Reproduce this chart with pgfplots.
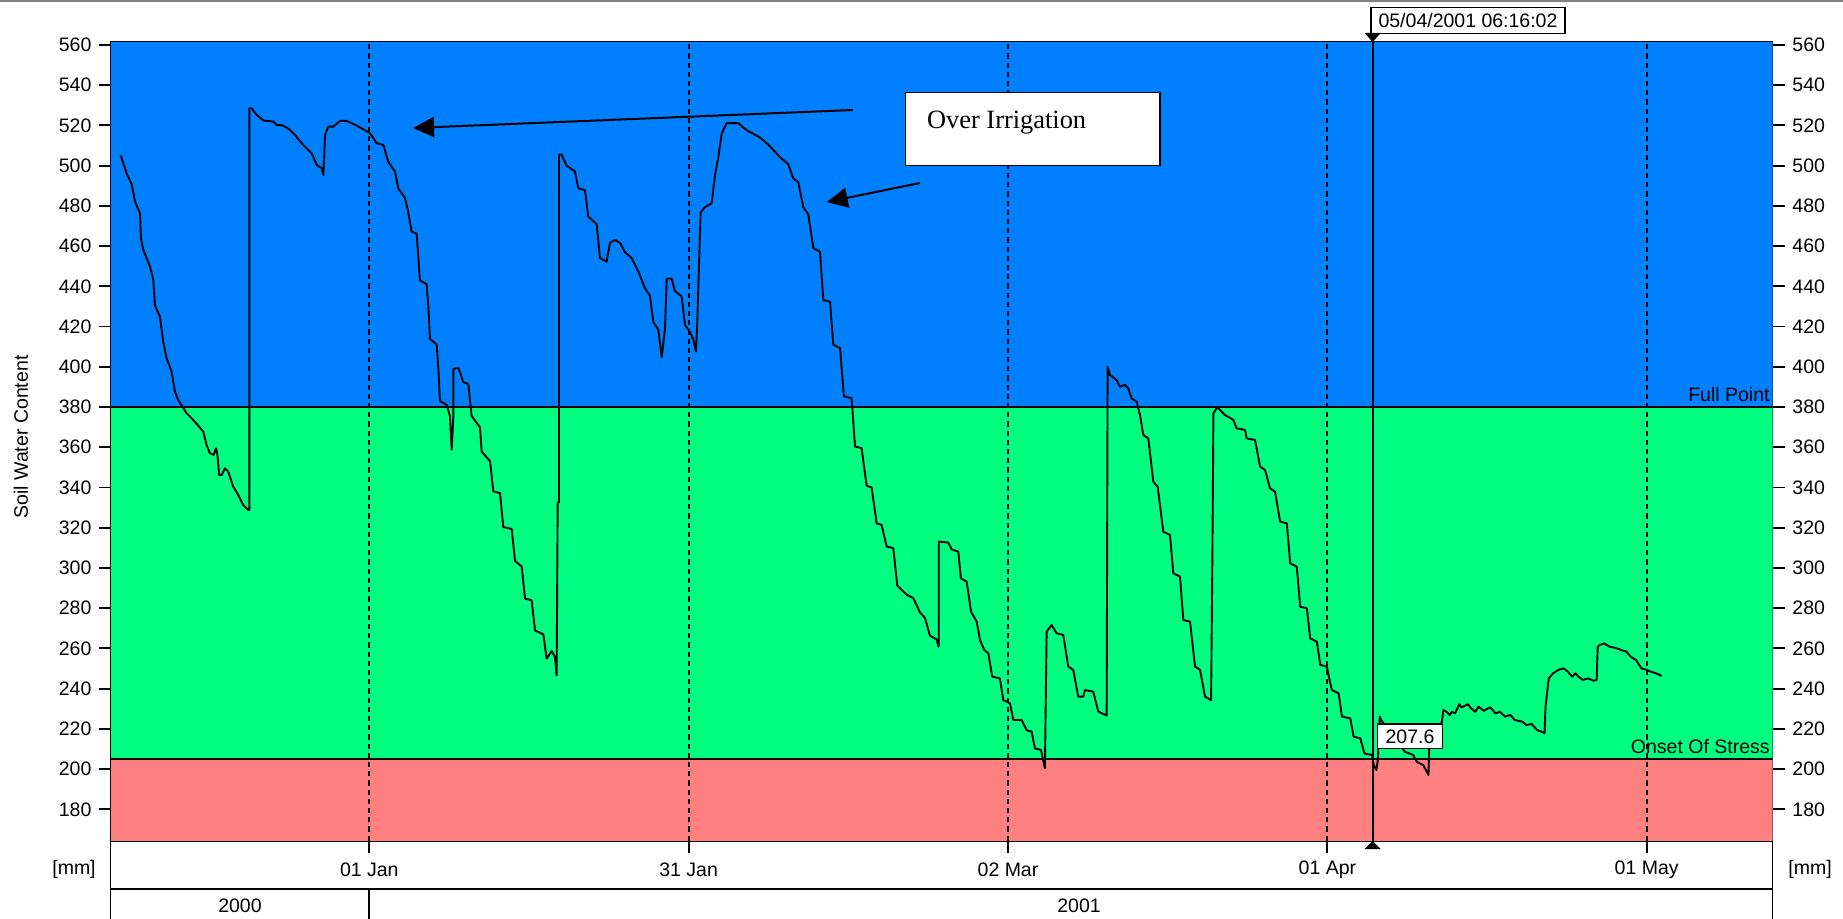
\documentclass[border=0pt]{standalone}
\usepackage{fontspec}
\setmainfont{Liberation Sans}
\newfontfamily\timesfont{Liberation Serif}
\usepackage{pgfplots}
\usepackage{pgfplotstable}
\pgfplotsset{compat=1.18}
\usetikzlibrary{arrows.meta}
\definecolor{bandblue}{RGB}{0,128,255}
\definecolor{bandgreen}{RGB}{0,255,128}
\definecolor{bandred}{RGB}{255,128,128}
\newcommand\lbl{\fontsize{9.75pt}{11pt}\selectfont}

% x = days since 01 Jan 2001, y = soil water content [mm]
\pgfplotstableread{
x y
-23.36 505.3
-22.8 496.2
-22.32 490.7
-22.0 482.1
-21.54 476.3
-21.45 463.9
-21.23 458.1
-20.6 449.8
-20.29 443.2
-20.14 430.7
-19.67 424.9
-19.36 412.5
-19.04 404.2
-18.57 397.6
-18.26 387.6
-17.95 383.5
-17.16 376.9
-16.54 373.6
-15.6 367.8
-15.28 361.1
-14.97 357.0
-14.6 356.2
-14.41 359.5
-14.28 357.0
-14.1 346.2
-13.87 346.2
-13.56 349.5
-13.25 347.9
-12.78 340.4
-12.31 336.3
-11.84 331.3
-11.37 328.8
-11.27 328.8
-11.27 528.5
-11.05 528.5
-10.58 525.2
-9.95 522.4
-9.01 521.9
-8.7 520.2
-8.07 519.9
-7.45 517.7
-6.98 515.2
-6.35 511.1
-5.41 506.1
-4.94 500.3
-4.47 498.7
-4.31 495.4
-4.16 515.2
-3.84 519.4
-3.37 519.4
-2.75 522.2
-2.12 522.2
-1.18 519.9
0.07 516.1
0.7 511.1
1.32 510.3
1.79 501.8
2.41 497.1
2.73 488.7
3.35 484.0
3.67 476.5
3.98 467.2
4.45 466.2
4.61 454.1
4.76 442.9
5.39 441.0
5.55 429.8
5.70 413.9
6.33 411.1
6.49 398.9
6.64 383.0
7.27 381.1
7.58 375.5
7.74 358.7
7.90 375.5
7.90 398.9
8.37 399.5
8.83 392.4
9.30 391.4
9.62 375.5
10.40 369.9
10.56 357.8
11.34 353.1
11.65 338.1
12.28 337.2
12.59 320.3
13.38 319.4
13.69 303.5
14.32 300.7
14.63 284.8
15.25 283.9
15.57 268.9
16.35 267.0
16.66 254.9
17.13 258.6
17.44 255.8
17.6 246.5
17.7 332.5
17.82 332.5
17.82 505.5
18.07 505.5
18.54 499.9
19.32 497.1
19.64 488.7
20.26 487.8
20.57 474.7
21.36 470.9
21.67 454.1
22.29 452.2
22.61 461.6
23.08 463.1
23.55 461.6
24.02 456.9
24.64 454.1
25.27 447.5
25.89 439.1
26.36 435.4
26.68 422.3
27.15 418.5
27.47 404.8
27.78 419.0
27.94 443.9
28.40 443.9
28.72 437.6
29.34 435.0
29.66 420.8
30.13 417.2
30.44 413.7
30.69 407.5
30.82 423.4
31.00 455.4
31.13 476.7
31.54 479.4
32.16 481.2
32.48 495.4
32.79 504.2
33.10 515.8
33.57 521.1
34.67 521.1
35.45 517.6
36.70 514.0
37.64 509.6
38.58 504.2
39.36 500.7
39.83 493.6
40.30 491.8
40.77 479.4
41.24 475.8
41.71 459.0
42.34 457.2
42.65 433.2
43.28 432.3
43.59 411.0
44.22 409.3
44.59 385.3
45.31 384.4
45.63 360.4
46.25 359.5
46.72 340.9
47.19 340.0
47.66 322.2
48.13 321.4
48.60 310.7
49.23 309.8
49.60 291.2
50.48 286.7
51.11 285.0
51.73 277.9
52.20 275.2
52.67 266.3
53.30 264.5
53.45 261.0
53.50 261.0
53.50 313.1
54.40 312.6
54.71 309.2
55.33 308.1
55.58 294.8
56.12 293.2
56.53 278.3
57.06 273.3
57.37 264.2
57.77 259.2
58.15 257.6
58.52 246.0
59.24 245.1
59.56 234.3
60.19 232.7
60.50 224.4
61.28 224.4
61.75 219.4
62.22 218.6
62.53 210.3
63.10 209.5
63.47 200.4
63.63 268.3
64.10 271.6
64.57 267.5
65.19 266.7
65.66 251.0
66.13 249.3
66.60 236.0
67.07 236.0
67.23 239.3
68.01 238.5
68.48 228.6
69.27 226.6
69.36 400.1
69.58 395.9
70.21 393.4
70.52 390.1
70.99 391.0
71.30 389.3
71.61 384.3
72.08 382.7
72.40 376.0
72.71 366.1
73.18 364.4
73.65 342.9
74.06 340.4
74.59 318.0
75.22 316.4
75.53 297.3
76.16 295.7
76.47 274.1
77.10 273.3
77.57 251.0
78.04 249.3
78.51 236.0
79.08 234.3
79.20 304.8
79.30 376.9
79.60 379.4
79.76 379.4
80.39 376.0
81.17 373.6
81.48 369.4
82.27 368.6
82.43 364.4
83.21 363.6
83.68 350.4
84.15 348.7
84.62 339.6
85.09 337.9
85.56 323.0
86.19 322.2
86.51 302.3
87.13 300.6
87.45 280.7
88.08 279.9
88.39 265.0
89.02 263.3
89.33 251.8
89.96 250.9
90.21 244.3
90.43 239.3
91.06 237.7
91.37 226.1
92.16 225.2
92.47 216.1
93.10 215.3
93.48 207.8
94.20 207.0
94.36 202.0
94.61 199.5
94.74 204.5
94.93 226.1
95.05 224.4
96.20 216.0
97.30 208.6
98.07 207.0
98.39 203.7
99.01 202.0
99.50 197.1
99.57 210.3
100.20 222.0
100.74 222.7
100.90 229.4
101.20 228.5
101.50 226.9
101.70 228.5
102.00 227.7
102.40 232.3
102.60 230.7
102.90 231.4
103.20 232.3
103.50 230.2
103.90 228.5
104.20 231.0
104.70 229.0
105.30 230.7
105.80 227.7
106.20 228.5
106.70 226.1
107.20 226.9
107.60 224.4
108.30 223.6
108.70 221.9
109.20 222.4
109.70 219.4
110.10 218.6
110.40 217.8
110.50 231.0
110.80 245.1
111.20 247.6
111.70 249.3
112.20 250.1
112.60 248.4
113.00 245.9
113.30 247.6
113.60 245.9
114.00 244.3
114.50 245.1
115.00 243.9
115.30 244.3
115.40 260.9
115.60 261.7
116.00 262.5
116.50 260.9
117.20 260.0
117.60 259.2
118.10 258.4
118.50 255.9
119.00 254.2
119.50 250.1
120.00 249.3
120.40 248.4
120.90 247.6
121.40 246.3
}\swc

\begin{document}
\begin{tikzpicture}
\path[use as bounding box] (0pt,0pt) rectangle (921.5pt,-459.5pt);
\begin{axis}[
  at={(55.25pt,-420.35pt)}, anchor=south west,
  scale only axis, width=831pt, height=399.5pt,
  xmin=-24.31, xmax=131.82, ymin=164.4, ymax=561.6,
  xtick={0,30,60,90,120}, xticklabels={},
  ytick={180,200,...,560},
  xtick pos=left, ytick pos=both,
  tick align=outside, major tick length=6pt,
  tick style={black, line width=0.9pt},
  axis line style={black, line width=0.9pt},
  yticklabel style={font=\lbl},
  /pgf/number format/assume math mode=true,
  clip=true,
]
\fill[bandblue] (axis cs:-24.31,380) rectangle (axis cs:131.82,561.6);
\fill[bandgreen] (axis cs:-24.31,205) rectangle (axis cs:131.82,380);
\fill[bandred] (axis cs:-24.31,164.4) rectangle (axis cs:131.82,205);
\draw[black, line width=0.75pt] (axis cs:-24.31,380) -- (axis cs:131.82,380);
\draw[black, line width=0.75pt] (axis cs:-24.31,205) -- (axis cs:131.82,205);
\pgfplotsinvokeforeach{0,30,60,90,120}{
  \draw[black, line width=1pt, dash pattern=on 2.6pt off 2pt] (axis cs:#1,164.4) -- (axis cs:#1,561.6);
}
\addplot[black, line width=0.95pt, line join=round, mark=none] table[x=x, y=y] {\swc};
\draw[black, line width=0.9pt] (axis cs:94.26,164.4) -- (axis cs:94.26,561.6);
\end{axis}

\begin{scope}[x=0.5pt, y=-0.5pt]
% window border line at top
\fill[black!50] (0,0) rectangle (1843,2);
% date band and year band
\draw[black, line width=0.9pt] (110.5,889.3) -- (1772.5,889.3);
\draw[black, line width=0.9pt] (110.5,840.7) -- (110.5,919);
\draw[black, line width=0.9pt] (1772.5,840.7) -- (1772.5,919);
\draw[black, line width=0.9pt] (369.3,889.3) -- (369.3,919);
\node[font=\lbl] at (369.3,870) {01 Jan};
\node[font=\lbl] at (688.6,870) {31 Jan};
\node[font=\lbl] at (1008.0,870) {02 Mar};
\node[font=\lbl] at (1327.4,870) {01 Apr};
\node[font=\lbl] at (1646.7,870) {01 May};
\node[font=\lbl] at (240,906) {2000};
\node[font=\lbl] at (1079,906) {2001};
\node[font=\lbl] at (74,869) {[mm]};
\node[font=\lbl] at (1810,869) {[mm]};
% right tick labels
\foreach \v in {180,200,...,560}{
  \node[font=\lbl, anchor=west, inner sep=0pt] at (1792,{45+(560-\v)*2.0113}) {\v};
}
% axis title
\node[font=\lbl, rotate=90] at (21,437) {Soil Water Content};
% band names
\node[font=\lbl, anchor=base east, inner sep=0pt] at (1770,402) {Full Point};
\node[font=\lbl, anchor=base east, inner sep=0pt] at (1770,753) {Onset Of Stress};
% cursor marker
\draw[black, line width=0.75pt, fill=white] (1371,7.3) rectangle (1565,33.3);
\node[font=\lbl] at (1468,20.5) {05/04/2001 06:16:02};
\fill[black] (1364.7,33) -- (1380.7,33) -- (1372.7,42) -- cycle;
\fill[black] (1364.7,849) -- (1380.7,849) -- (1372.7,841) -- cycle;
\draw[black, line width=0.75pt, fill=white] (1377.3,724) rectangle (1442.7,748.3);
\node[font=\lbl] at (1410,736.5) {207.6};
% annotation
\draw[black, line width=0.75pt, fill=white] (905.7,92.3) rectangle (1160,165.3);
\node[font=\timesfont\fontsize{13.2pt}{15pt}\selectfont, anchor=base west, inner sep=0pt] at (926.7,128.3) {Over Irrigation};
\draw[black, line width=1pt, -{Triangle[length=10.5pt,width=10pt]}] (853,110) -- (413,128);
\draw[black, line width=1pt, -{Triangle[length=10.5pt,width=10pt]}] (920,183) -- (826.7,202);
\end{scope}
\end{tikzpicture}
\end{document}
